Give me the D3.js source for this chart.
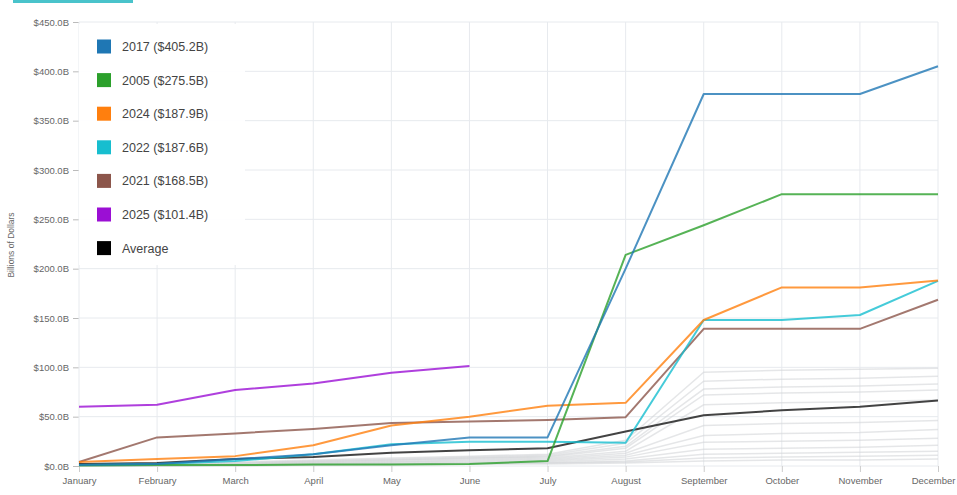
<!DOCTYPE html>
<html>
<head>
<meta charset="utf-8">
<script src="https://cdn.jsdelivr.net/npm/d3@7"></script>
<style>
  html, body { margin: 0; padding: 0; background: #fff; }
  svg { display: block; font-family: "Liberation Sans", Arial, Helvetica, sans-serif; }
</style>
</head>
<body>
<svg id="chart" width="957" height="495"></svg>
<script>
// Cumulative monthly totals, billions of dollars
const months = ["January", "February", "March", "April", "May", "June",
                "July", "August", "September", "October", "November", "December"];

const yTicks = [0, 50, 100, 150, 200, 250, 300, 350, 400, 450];

// Highlighted years
const y2017 = [1, 2, 7, 12, 21, 29, 29, 200, 377, 377, 377, 405.2];
const y2005 = [0.5, 1, 1, 1.5, 1.5, 2, 5, 214, 244, 275.5, 275.5, 275.5];
const y2024 = [4, 7, 10, 21, 41, 50, 61, 64, 148, 181, 181, 187.9];
const y2022 = [1, 2, 5, 12, 22, 24.5, 24.5, 23.5, 148, 148, 153, 187.6];
const y2021 = [4, 29, 33, 37.5, 43.5, 45, 46.5, 49.5, 139, 139, 139, 168.5];
const y2025 = [60, 62, 77, 83.5, 94.5, 101.4];
const average = [2, 3, 7, 9, 13.5, 16, 18, 35, 51.5, 56.5, 60, 66.5];

// Remaining years, drawn faintly in the background
const otherYears = [
  [1, 2, 4, 6, 8, 10, 12, 26, 95, 97, 98, 99],
  [1, 2, 3, 5, 7, 9, 11, 23, 86, 88, 89, 91],
  [0, 1, 3, 4, 6, 8, 10, 20, 78, 80, 81, 83],
  [1, 2, 3, 5, 6, 8, 9, 18, 72, 74, 75, 77],
  [0, 1, 2, 4, 5, 7, 8, 15, 62, 64, 65, 67],
  [0, 1, 2, 3, 4, 6, 7, 13, 41, 43, 44, 46],
  [0, 1, 2, 3, 4, 5, 6, 11, 31, 33, 34, 37],
  [0, 1, 1, 2, 3, 4, 5, 9, 24, 25, 26, 28],
  [0, 0, 1, 2, 2, 3, 4, 7, 17, 18, 19, 21],
  [0, 0, 1, 1, 2, 3, 3, 5, 12, 13, 14, 15],
  [0, 0, 1, 1, 2, 2, 3, 4, 8, 9, 10, 11],
  [0, 0, 0, 1, 1, 2, 2, 3, 5, 6, 6, 7]
];

const highlighted = [
  { name: "2017", values: y2017, color: "#1f77b4" },
  { name: "2005", values: y2005, color: "#2ca02c" },
  { name: "2024", values: y2024, color: "#ff7f0e" },
  { name: "2022", values: y2022, color: "#17becf" },
  { name: "2021", values: y2021, color: "#8c564b" },
  { name: "2025", values: y2025, color: "#9b0fd4" }
];

const margin = { top: 22, right: 19, bottom: 29, left: 79 };
const width = 957, height = 495;
const svg = d3.select("#chart");

const x = d3.scalePoint().domain(months).range([margin.left, width - margin.right]);
const y = d3.scaleLinear().domain([0, 450]).range([height - margin.bottom, margin.top]);

const fmt = v => "$" + d3.format(".1f")(v) + "B";

// header accent bar
svg.append("rect").attr("x", 13).attr("y", 0).attr("width", 120).attr("height", 3).attr("fill", "#49c3cb");

// horizontal grid + y axis
const yAxis = svg.append("g")
  .attr("transform", `translate(${margin.left},0)`)
  .call(d3.axisLeft(y).tickValues(yTicks).tickFormat(fmt).tickSize(6).tickPadding(4));
yAxis.select(".domain").remove();
yAxis.selectAll(".tick line").attr("stroke", "#bbb");
yAxis.selectAll(".tick text").attr("fill", "#666").attr("font-size", 9.5);

svg.append("g").selectAll("line").data(yTicks).join("line")
  .attr("x1", margin.left).attr("x2", width - margin.right)
  .attr("y1", d => y(d)).attr("y2", d => y(d))
  .attr("stroke", "#e7eaee").attr("stroke-width", 1);

// vertical grid + x axis
svg.append("g").selectAll("line").data(months).join("line")
  .attr("x1", d => x(d)).attr("x2", d => x(d))
  .attr("y1", margin.top).attr("y2", height - margin.bottom)
  .attr("stroke", "#e7eaee").attr("stroke-width", 1);

const xAxis = svg.append("g")
  .attr("transform", `translate(0,${height - margin.bottom})`)
  .call(d3.axisBottom(x).tickSize(6).tickPadding(5));
xAxis.select(".domain").remove();
xAxis.selectAll(".tick line").attr("stroke", "#ccc");
xAxis.selectAll(".tick text").attr("fill", "#666").attr("font-size", 9.5);
// keep the last month label inside the frame
xAxis.selectAll(".tick text").filter(d => d === months[months.length - 1])
  .attr("text-anchor", "end").attr("dx", width - 2 - x(months[months.length - 1]));

// y axis title
svg.append("text")
  .attr("transform", `translate(14,245) rotate(-90)`)
  .attr("text-anchor", "middle").attr("font-size", 8.5).attr("fill", "#666")
  .text("Billions of Dollars");

const line = d3.line().x((d, i) => x(months[i])).y(d => y(d));

// background years
svg.append("g").selectAll("path").data(otherYears).join("path")
  .attr("d", d => line(d)).attr("fill", "none")
  .attr("stroke", "#d4d6d9").attr("stroke-width", 1.5).attr("stroke-opacity", 0.6);

// average
svg.append("path").attr("d", line(average)).attr("fill", "none")
  .attr("stroke", "#222").attr("stroke-width", 2).attr("stroke-opacity", 0.85);

// highlighted years (drawn bottom of legend first so 2017 sits on top)
svg.append("g").selectAll("path").data(highlighted.slice().reverse()).join("path")
  .attr("d", d => line(d.values)).attr("fill", "none")
  .attr("stroke", d => d.color).attr("stroke-width", 2).attr("stroke-opacity", 0.8)
  .attr("stroke-linejoin", "round");

// legend
const legendItems = highlighted.map(d => ({
  label: `${d.name} (${fmt(d.values[d.values.length - 1])})`, color: d.color
})).concat([{ label: "Average", color: "#000" }]);

const legend = svg.append("g");
legend.append("rect").attr("x", 79).attr("y", 24).attr("width", 166).attr("height", 241)
  .attr("fill", "#fff").attr("fill-opacity", 0.95);
const rows = legend.selectAll("g").data(legendItems).join("g")
  .attr("transform", (d, i) => `translate(97,${46.5 + i * 33.6})`);
rows.append("rect").attr("x", 0).attr("y", -7).attr("width", 14).attr("height", 14)
  .attr("fill", d => d.color);
rows.append("text").attr("x", 25).attr("y", 4.5).attr("font-size", 12.5).attr("fill", "#444")
  .text(d => d.label);
</script>
</body>
</html>
